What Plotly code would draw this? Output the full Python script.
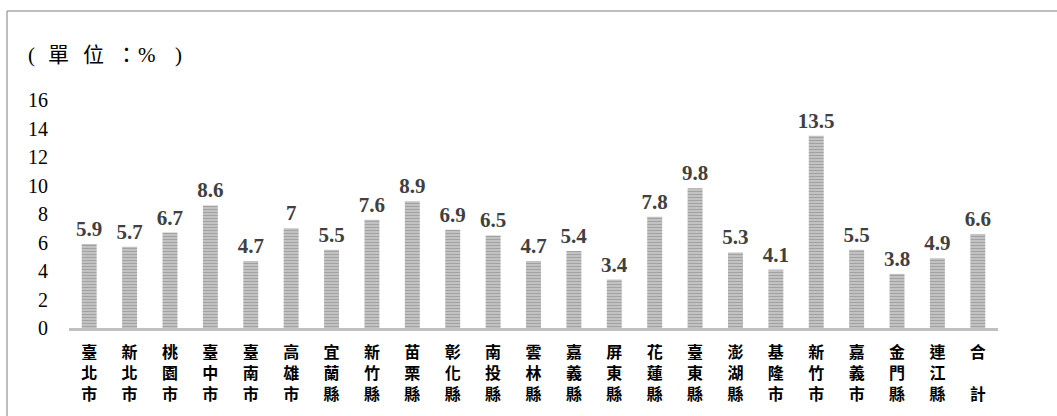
import plotly.graph_objects as go

categories = ["臺北市", "新北市", "桃園市", "臺中市", "臺南市", "高雄市", "宜蘭縣", "新竹縣",
              "苗栗縣", "彰化縣", "南投縣", "雲林縣", "嘉義縣", "屏東縣", "花蓮縣", "臺東縣",
              "澎湖縣", "基隆市", "新竹市", "嘉義市", "金門縣", "連江縣", "合計"]
values = [5.9, 5.7, 6.7, 8.6, 4.7, 7, 5.5, 7.6, 8.9, 6.9, 6.5, 4.7, 5.4, 3.4, 7.8, 9.8,
          5.3, 4.1, 13.5, 5.5, 3.8, 4.9, 6.6]
y_ticks = [0, 2, 4, 6, 8, 10, 12, 14, 16]
unit_parts = ["(", "單", "位", "：", "%", ")"]

SERIF = "Liberation Serif, Times New Roman, DejaVu Serif, serif"


def vertical(name):
    if len(name) == 2:
        return name[0] + "<br> <br>" + name[1]
    return "<br>".join(name)


def fmt(v):
    return f"{v:g}"


W, H = 1057, 416
L, R, T, B = 69, 59, 100, 88
pw, ph = W - L - R, H - T - B


def px_x(px):
    return (px - L) / pw


def px_y(py):
    return (H - B - py) / ph


fig = go.Figure()
fig.add_trace(go.Bar(
    x=categories,
    y=values,
    text=[fmt(v) for v in values],
    textposition="outside",
    constraintext="none",
    cliponaxis=False,
    textfont=dict(family=SERIF, size=21, color="#404040", weight=700),
    marker=dict(
        color="#bdbdbd",
        line=dict(width=0),
        pattern=dict(shape="-", fgcolor="#7a7a7a", bgcolor="#cbcbcb", size=3, solidity=0.5),
    ),
    width=0.37,
    hoverinfo="skip",
))

# unit label: characters placed with wide spacing as in the reference
unit_x = [31, 58, 93, 126, 147, 178]
annotations = []
for ch, xp in zip(unit_parts, unit_x):
    annotations.append(dict(
        text=ch, xref="paper", yref="paper",
        x=px_x(xp), y=px_y(55), xanchor="center", yanchor="middle",
        showarrow=False,
        font=dict(family=SERIF + ", Noto Sans CJK TC", size=21, color="black"),
    ))

fig.update_layout(
    width=W, height=H,
    margin=dict(l=L, r=R, t=T, b=B),
    paper_bgcolor="white",
    plot_bgcolor="white",
    showlegend=False,
    xaxis=dict(
        tickvals=categories,
        ticktext=[vertical(c) for c in categories],
        tickangle=0,
        tickfont=dict(family="Noto Sans CJK TC", size=16, color="black", weight=700),
        showline=True, linecolor="#c0c0c0", linewidth=3,
        showgrid=False, zeroline=False, ticks="",
        range=[-0.5, len(categories) - 0.5],
        ticklabelstandoff=8,
    ),
    yaxis=dict(
        range=[0, 16],
        tickvals=y_ticks,
        ticktext=[str(t) for t in y_ticks],
        tickfont=dict(family=SERIF, size=20, color="black"),
        showgrid=False, zeroline=False, showline=False, ticks="",
        ticklabelstandoff=20,
    ),
    shapes=[
        dict(type="line", xref="paper", yref="paper",
             x0=px_x(7), x1=px_x(1060), y0=px_y(11), y1=px_y(11),
             line=dict(color="#7f7f7f", width=1)),
        dict(type="line", xref="paper", yref="paper",
             x0=px_x(7), x1=px_x(7), y0=px_y(11), y1=px_y(420),
             line=dict(color="#7f7f7f", width=1)),
    ],
    annotations=annotations,
)

fig.write_html("out.html")
